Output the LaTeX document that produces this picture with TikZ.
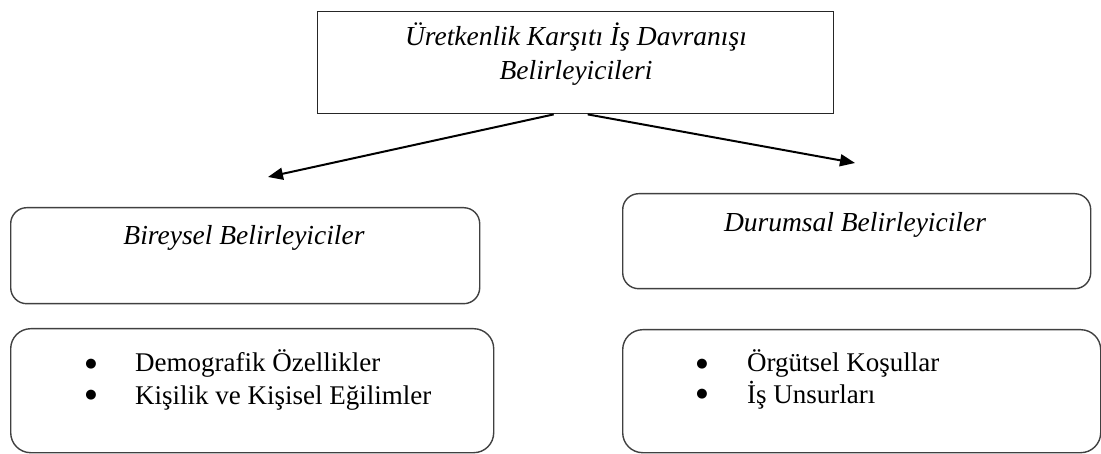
\documentclass[tikz,border=0pt]{standalone}
\usepackage{fontspec}
\setmainfont{Liberation Serif}
\newfontfamily\symfont{DejaVu Sans}
\usetikzlibrary{arrows.meta,calc}
\begin{document}
\begin{tikzpicture}[x=1pt,y=-1pt,
  topbox/.style={draw=black!85,line width=1.4pt,inner sep=0pt,anchor=north west},
  rbox/.style={draw=black!75,line width=1.4pt,rounded corners=16pt,inner sep=0pt,anchor=north west},
  txt/.style={inner sep=0pt,anchor=base,font=\fontsize{27}{32}\selectfont},
  itxt/.style={txt,font=\fontsize{27.5}{32}\selectfont\itshape},
  ltxt/.style={txt,anchor=base west},
  bul/.style={inner sep=0pt,anchor=base,font=\symfont\fontsize{13}{13}\selectfont},
  conn/.style={line width=2pt,-{Triangle[length=15pt,width=12pt]}}]
\useasboundingbox (0,0) rectangle (1101,454);
% boxes
\node[topbox,minimum width=516pt,minimum height=102pt] (top) at (317,11) {};
\node[rbox,minimum width=469pt,minimum height=96pt] (b1) at (10,207) {};
\node[rbox,minimum width=468pt,minimum height=95pt] (d1) at (622,193) {};
\node[rbox,rounded corners=20pt,minimum width=483pt,minimum height=124pt] (b2) at (10,328) {};
\node[rbox,rounded corners=20pt,minimum width=478pt,minimum height=123pt] (d2) at (622,329) {};
% texts
\node[itxt] (t1) at (576,46) {Üretkenlik Karşıtı İş Davranışı};
\node[itxt] (t2) at (576,80) {Belirleyicileri};
\node[itxt] (hb) at (244,245) {Bireysel Belirleyiciler};
\node[itxt] (hd) at (855,232) {Durumsal Belirleyiciler};
\node[bul] (bu1) at (91,367) {●};
\node[bul] (bu2) at (91,399) {●};
\node[ltxt] (l1) at (135,372) {Demografik Özellikler};
\node[ltxt] (l2) at (135,404) {Kişilik ve Kişisel Eğilimler};
\node[bul] (bu3) at (702,367) {●};
\node[bul] (bu4) at (702,398) {●};
\node[ltxt] (r1) at (747,372) {Örgütsel Koşullar};
\node[ltxt] (r2) at (747,403) {İş Unsurları};
% connectors
\coordinate (tipL) at (268,177);
\coordinate (tipR) at (855,163);
\draw[conn] ($(top.south)+(-22,0)$) -- (tipL);
\draw[conn] ($(top.south)+(12,0)$) -- (tipR);
\end{tikzpicture}
\end{document}
